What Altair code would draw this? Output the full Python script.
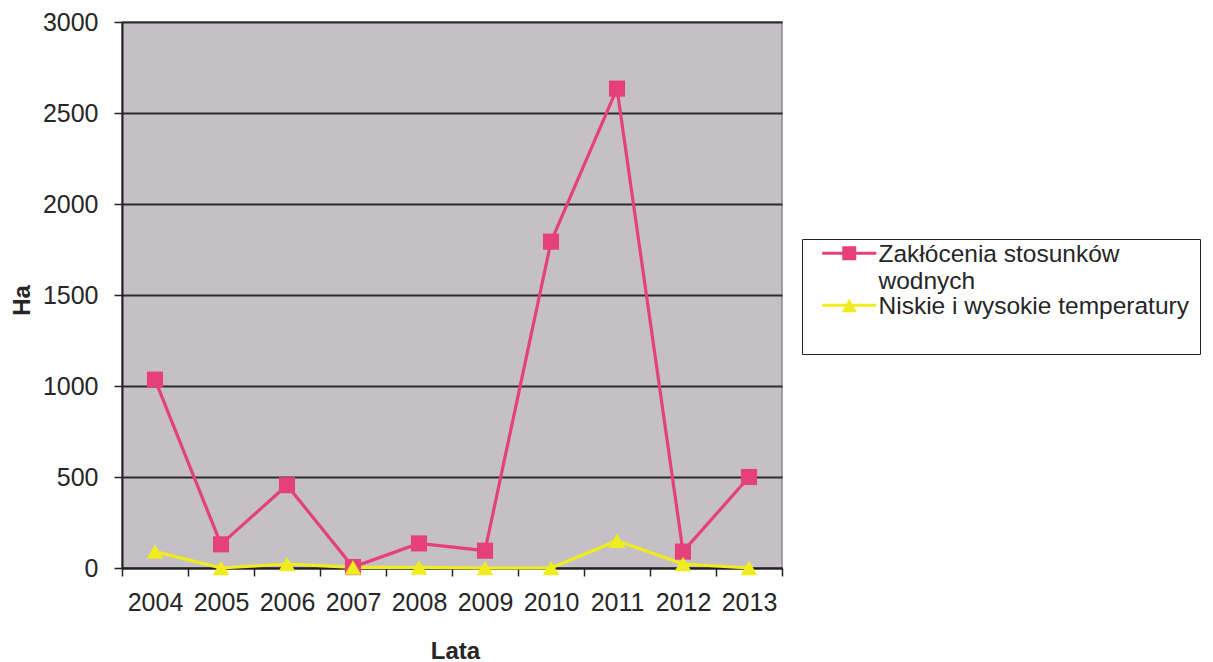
import altair as alt
import pandas as pd

years = ["2004", "2005", "2006", "2007", "2008", "2009", "2010", "2011", "2012", "2013"]
water = [1035, 130, 455, 5, 135, 95, 1793, 2634, 90, 500]
temp = [90, 0, 22, 3, 3, 0, 0, 150, 22, 0]
series = ["Zakłócenia stosunków wodnych", "Niskie i wysokie temperatury"]
legend_lines = ["Zakłócenia stosunków", "wodnych"]
colors = ["#e6407b", "#f0ec1e"]
y_ticks = [0, 500, 1000, 1500, 2000, 2500, 3000]

rows = []
for s, c, vals in zip(series, colors, [water, temp]):
    for yr, v in zip(years, vals):
        rows.append({"Lata": yr, "Ha": v, "series": s, "hex": c})
df = pd.DataFrame(rows)

FONT = "Liberation Sans"
TXT = "#262626"

# legend symbols (pixel units, symbolSize=4): line segment + marker, on the first text line
sq_path = "M-27,-10.5H27V-7.5H-27Z M-7,-16H7V-2H-7Z"
tri_path = "M-27,-10.5H27V-7.5H-27Z M0,-15.5L7.5,-2H-7.5Z"

x_enc = alt.X(
    "Lata:O",
    scale=alt.Scale(type="band", paddingInner=0, paddingOuter=0),
    axis=alt.Axis(
        title="Lata", labelAngle=0, tickBand="extent", grid=False,
        labelFont=FONT, labelFontSize=25, labelColor=TXT, labelPadding=14,
        tickSize=8, tickColor="#222", tickWidth=1.5,
        domainColor="#222", domainWidth=2,
        titleFont=FONT, titleFontSize=24, titleFontWeight="bold", titleColor=TXT,
        titleX=333, titleY=83, titleBaseline="middle", titleAlign="center",
    ),
)
y_enc = alt.Y(
    "Ha:Q",
    scale=alt.Scale(domain=[0, 3000], nice=False),
    axis=alt.Axis(
        title="Ha", values=y_ticks, format="d", grid=True, gridColor="#2b2b2b", gridWidth=2,
        labelFont=FONT, labelFontSize=25, labelColor=TXT, labelPadding=16,
        tickSize=8, tickColor="#222", tickWidth=1.5,
        domainColor="#222", domainWidth=2,
        titleFont=FONT, titleFontSize=24, titleFontWeight="bold", titleColor=TXT,
        titleAngle=270, titleX=-100, titleY=278, titleBaseline="middle", titleAlign="center",
    ),
)

first = series[0]
label_expr = (
    f"datum.value === '{first}' ? ['{legend_lines[0]}', '{legend_lines[1]}'] : datum.label"
)

legend = alt.Legend(
    title="\u00a0", titleOrient="bottom", titleFontSize=24, titlePadding=0,
    orient="none", legendX=680, legendY=217,
    strokeColor="#222", fillColor="white", padding=11,
    labelFont=FONT, labelFontSize=24.5, labelColor=TXT, labelLimit=600,
    labelExpr=label_expr, labelBaseline="alphabetic",
    symbolSize=4, symbolOffset=24, labelOffset=17, rowPadding=0,
    symbolOpacity=1, symbolStrokeWidth=0,
)

hex_color = alt.Color("hex:N", scale=None)
base = alt.Chart(df)

lines = base.mark_line(strokeWidth=3.2).encode(x=x_enc, y=y_enc, color=hex_color, detail="series:N")
squares = base.transform_filter(alt.datum.series == series[0]).mark_point(
    shape="square", filled=True, size=260, opacity=1
).encode(x=x_enc, y=y_enc, color=hex_color)
triangles = base.transform_filter(alt.datum.series == series[1]).mark_point(
    shape="triangle-up", filled=True, size=280, opacity=1
).encode(x=x_enc, y=y_enc, color=hex_color)
legend_layer = base.transform_filter("false").mark_point(filled=True).encode(
    x=x_enc, y=y_enc,
    color=alt.Color("series:N", scale=alt.Scale(domain=series, range=colors), legend=legend),
    shape=alt.Shape("series:N", scale=alt.Scale(domain=series, range=[sq_path, tri_path]), legend=legend),
)

chart = (
    alt.layer(lines, squares, triangles, legend_layer)
    .properties(
        width=660, height=546,
        autosize=alt.AutoSizeParams(type="none"),
        padding={"left": 114, "top": 14, "right": 420, "bottom": 94},
        background="white",
    )
    .configure_view(fill="#c4c0c5", stroke="#8a8a8a", strokeWidth=1.5)
)

chart.save("out.html", embed_options={"renderer": "svg", "actions": False})
